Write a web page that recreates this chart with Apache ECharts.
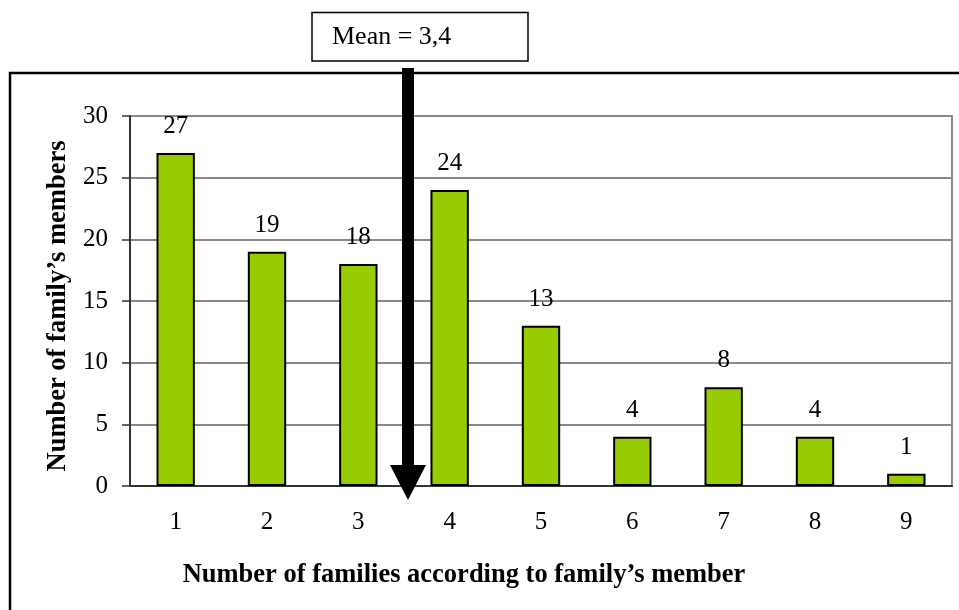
<!DOCTYPE html>
<html>
<head>
<meta charset="utf-8">
<script src="https://cdn.jsdelivr.net/npm/echarts@6/dist/echarts.min.js"></script>
<style>
  html, body { margin: 0; padding: 0; background: #fff; }
  #chart { width: 959px; height: 610px; }
</style>
</head>
<body>
<div id="chart"></div>
<script>
// Family size categories and how many families fall in each
const categories = ['1', '2', '3', '4', '5', '6', '7', '8', '9'];
const familyCounts = [27, 19, 18, 24, 13, 4, 8, 4, 1];
const yTicks = [0, 5, 10, 15, 20, 25, 30];
const meanLabel = 'Mean = 3,4';
const xTitle = 'Number of families according to family\u2019s member';
const yTitle = 'Number of family\u2019s members';

const serif = '"Liberation Serif", "Times New Roman", serif';

const chart = echarts.init(document.getElementById('chart'), null, { renderer: 'canvas' });

const option = {
  animation: false,
  backgroundColor: '#ffffff',
  grid: {
    left: 130, right: 7, top: 116, bottom: 124,
    show: true, borderColor: '#888888', borderWidth: 2, backgroundColor: 'transparent'
  },
  xAxis: {
    type: 'category',
    data: categories,
    boundaryGap: true,
    axisLine: { lineStyle: { color: '#333333', width: 2 } },
    axisTick: { inside: false, length: 8, lineStyle: { color: '#333333', width: 1.5 } },
    axisLabel: { margin: 24, fontFamily: serif, fontSize: 25, color: '#000' },
    name: xTitle,
    nameLocation: 'middle',
    nameGap: 76,
    nameTextStyle: {
      fontFamily: serif, fontSize: 26.5, fontWeight: 'bold', color: '#000',
      padding: [0, 154, 0, 0]
    }
  },
  yAxis: {
    type: 'value',
    min: yTicks[0],
    max: yTicks[yTicks.length - 1],
    interval: yTicks[1] - yTicks[0],
    axisLine: { show: true, lineStyle: { color: '#333333', width: 2 } },
    axisTick: { show: true, inside: false, length: 8, lineStyle: { color: '#333333', width: 1.5 } },
    axisLabel: { margin: 22, fontFamily: serif, fontSize: 25, color: '#000' },
    splitLine: { lineStyle: { color: '#888888', width: 2 } },
    name: yTitle,
    nameLocation: 'middle',
    nameGap: 58,
    nameTextStyle: {
      fontFamily: serif, fontSize: 26.5, fontWeight: 'bold', color: '#000',
      padding: [0, 10, 0, 0]
    }
  },
  series: [{
    type: 'bar',
    data: familyCounts,
    barWidth: '42%',
    itemStyle: { color: '#99CC00', borderColor: '#000000', borderWidth: 2 },
    label: {
      show: true, position: 'top', distance: 14,
      fontFamily: serif, fontSize: 25, color: '#000'
    }
  }]
};

chart.setOption(option);

// Mean annotation: boxed label above the chart frame and a thick arrow
// pointing down between the 3rd and 4th categories.
const c3 = chart.convertToPixel({ xAxisIndex: 0 }, categories[2]);
const c4 = chart.convertToPixel({ xAxisIndex: 0 }, categories[3]);
const arrowX = (c3 + c4) / 2 + 4;
const baseY = chart.convertToPixel({ yAxisIndex: 0 }, 0);
const shaftTop = 68;
const headTop = baseY - 21;
const tipY = baseY + 14;

chart.setOption({
  graphic: [
    {
      type: 'rect', z: 100,
      shape: { x: 10, y: 73, width: 970, height: 560 },
      style: { fill: 'none', stroke: '#000', lineWidth: 2.5 }
    },
    {
      type: 'rect', z: 100,
      shape: { x: 312, y: 12.5, width: 216, height: 48.5 },
      style: { fill: '#fff', stroke: '#000', lineWidth: 1.5 }
    },
    {
      type: 'text', z: 101,
      left: 332, top: 24,
      style: { text: meanLabel, fontFamily: serif, fontSize: 26, fill: '#000' }
    },
    {
      type: 'rect', z: 102,
      shape: { x: arrowX - 6, y: shaftTop, width: 12, height: headTop - shaftTop + 1 },
      style: { fill: '#000' }
    },
    {
      type: 'polygon', z: 102,
      shape: { points: [[arrowX - 18, headTop], [arrowX + 18, headTop], [arrowX, tipY]] },
      style: { fill: '#000' }
    }
  ]
});
</script>
</body>
</html>
